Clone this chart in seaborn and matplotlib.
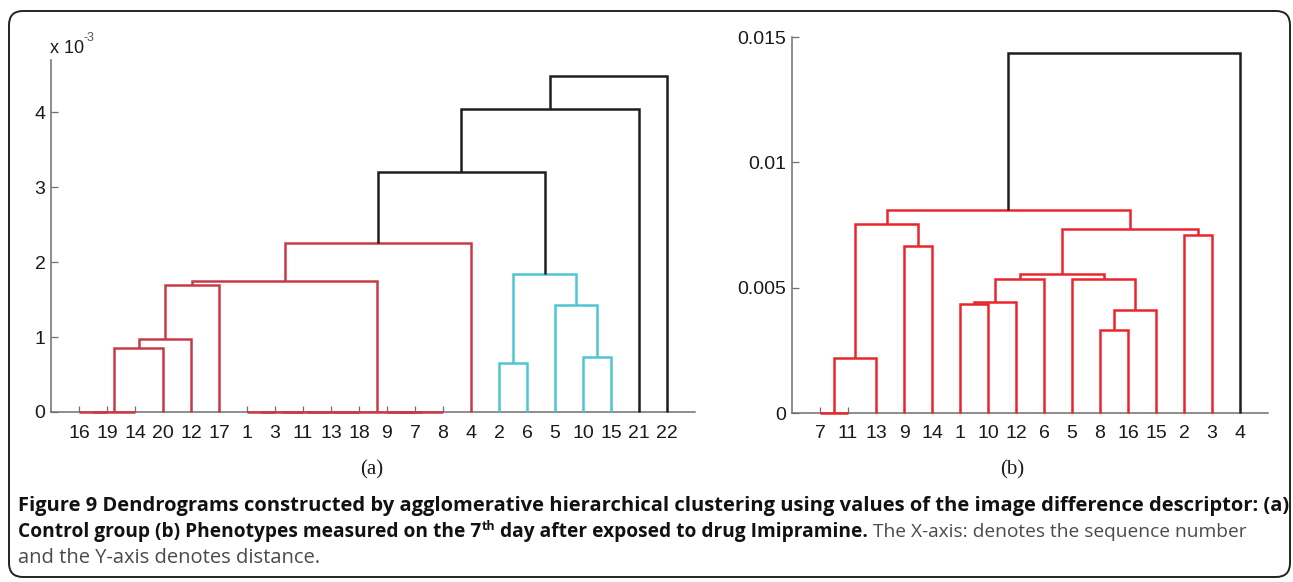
import numpy as np
import pandas as pd
import matplotlib
matplotlib.use("Agg")
import matplotlib.pyplot as plt
import matplotlib.transforms as mtransforms
from matplotlib.patches import FancyBboxPatch
import seaborn as sns

# ---------------- data ----------------
# Panel (a): leaf order along x, merges (child1, child2, height x1e-3, colour group)
a_leaves = [16, 19, 14, 20, 12, 17, 1, 3, 11, 13, 18, 9, 7, 8, 4, 2, 6, 5, 10, 15, 21, 22]
a_child1 = [16, 'k0', 'k1', 'k2', 'k3', 1, 'k5', 'k6', 'k7', 9, 'k9', 'k8', 'k4', 'k12',
            2, 10, 5, 'k14', 'k13', 'k18', 'k19']
a_child2 = [19, 14, 20, 12, 17, 3, 11, 13, 18, 7, 8, 'k10', 'k11', 4,
            6, 15, 'k15', 'k16', 'k17', 21, 22]
a_height = [0, 0, 0.85, 0.97, 1.70, 0, 0, 0, 0, 0, 0, 0, 1.75, 2.25,
            0.66, 0.73, 1.43, 1.84, 3.20, 4.04, 4.48]
a_group = ['r'] * 14 + ['c'] * 4 + ['k'] * 3

# Panel (b)
b_leaves = [7, 11, 13, 9, 14, 1, 10, 12, 6, 5, 8, 16, 15, 2, 3, 4]
b_child1 = [7, 'k0', 9, 'k1', 1, 'k4', 'k5', 8, 'k7', 5, 'k6', 2, 'k10', 'k3', 'k13']
b_child2 = [11, 13, 14, 'k2', 10, 12, 6, 16, 15, 'k8', 'k9', 3, 'k11', 'k12', 4]
b_height = [0, 0.00218, 0.00668, 0.00752, 0.00434, 0.00444, 0.00536, 0.00332,
            0.00411, 0.00533, 0.00553, 0.00710, 0.00735, 0.00809, 0.01435]
b_group = ['r'] * 14 + ['k']

a_yticks = [0, 1, 2, 3, 4]
b_yticks = [0, 0.005, 0.01, 0.015]
b_yticklabels = ['0', '0.005', '0.01', '0.015']

caption_bold1 = ("Figure 9 Dendrograms constructed by agglomerative hierarchical clustering "
                 "using values of the image difference descriptor: (a)")
caption_bold2a = "Control group (b) Phenotypes measured on the 7"
caption_sup = "th"
caption_bold2b = " day after exposed to drug Imipramine."
caption_reg2 = " The X-axis: denotes the sequence number"
caption_reg3 = "and the Y-axis denotes distance."


def link_segments(leaves, c1, c2, heights, groups):
    pos = {leaf: i + 1 for i, leaf in enumerate(leaves)}
    hgt = {leaf: 0.0 for leaf in leaves}
    rows = []
    for k, (a, b, h, g) in enumerate(zip(c1, c2, heights, groups)):
        xa, ya = pos[a], hgt[a]
        xb, yb = pos[b], hgt[b]
        rows += [(xa, ya, k, g), (xa, h, k, g), (xb, h, k, g), (xb, yb, k, g)]
        pos[f'k{k}'] = (xa + xb) / 2.0
        hgt[f'k{k}'] = h
    return pd.DataFrame(rows, columns=['x', 'y', 'link', 'group'])


sns.set_style("white")
plt.rcParams['font.family'] = ['Liberation Sans', 'DejaVu Sans']

W, H = 1293, 582
fig = plt.figure(figsize=(W / 100, H / 100), dpi=100)

axA = fig.add_axes([51 / W, (H - 412) / H, 644 / W, 352 / H])
axB = fig.add_axes([792 / W, (H - 413) / H, 476 / W, 376 / H])

dfA = link_segments(a_leaves, a_child1, a_child2, a_height, a_group)
dfB = link_segments(b_leaves, b_child1, b_child2, b_height, b_group)

colA = {'r': '#c83a46', 'c': '#4ec6d2', 'k': '#1e1e1e'}
colB = {'r': '#e8262c', 'k': '#1e1e1e'}

for ax, df, cols in [(axA, dfA, colA), (axB, dfB, colB)]:
    for g, c in cols.items():
        sub = df[df['group'] == g]
        sns.lineplot(data=sub, x='x', y='y', units='link', estimator=None, sort=False,
                     color=c, lw=1.8, ax=ax, legend=False)
    for ln in ax.lines:
        ln.set_zorder(3)
        ln.set_clip_on(False)
        ln.set_solid_joinstyle('miter')
        ln.set_solid_capstyle('butt')
    ax.set_xlabel('')
    ax.set_ylabel('')
    for s in ['top', 'right']:
        ax.spines[s].set_visible(False)
    for s in ['left', 'bottom']:
        ax.spines[s].set_visible(True)
        ax.spines[s].set_color('#6f6f6f')
        ax.spines[s].set_linewidth(1.1)
        ax.spines[s].set_zorder(1)
    ax.tick_params(axis='y', direction='in', length=5, width=0.9, color='#6f6f6f',
                   labelsize=14, labelcolor='#1a1a1a', pad=4, left=True)
    ax.tick_params(axis='x', direction='in', length=4, width=0.9, color='#6f6f6f',
                   labelsize=14, labelcolor='#1a1a1a', pad=9, bottom=True)
    ax.set_facecolor('none')

axA.set_xlim(0, len(a_leaves) + 1)
axA.set_ylim(0, 4.70)
axA.set_xticks(range(1, len(a_leaves) + 1))
axA.set_xticklabels([str(v) for v in a_leaves])
axA.set_yticks(a_yticks)
axA.set_yticklabels([str(v) for v in a_yticks])

axB.set_xlim(0, len(b_leaves) + 1)
axB.set_ylim(0, 0.015)
axB.set_xticks(range(1, len(b_leaves) + 1))
axB.set_xticklabels([str(v) for v in b_leaves])
axB.set_yticks(b_yticks)
axB.set_yticklabels(b_yticklabels)

# exponent label
fig.text(50 / W, 1 - 53 / H, 'x 10', fontsize=13, color='#1a1a1a', va='baseline', ha='left')
fig.text(84 / W, 1 - 41 / H, '-3', fontsize=9, color='#555555', va='baseline', ha='left')

# panel labels
fig.text(372 / W, 1 - 470 / H, '(a)', fontsize=15, family='Liberation Serif',
         ha='center', va='center', color='#1a1a1a')
fig.text(1012 / W, 1 - 470 / H, '(b)', fontsize=15, family='Liberation Serif',
         ha='center', va='center', color='#1a1a1a')

# caption
renderer = fig.canvas.get_renderer()
x0 = 18
t1 = fig.text(x0 / W, 1 - 511 / H, caption_bold1, family='Open Sans', weight='bold',
              fontsize=12, color='#111111', va='baseline', ha='left')
w1 = t1.get_window_extent(renderer).width
fs = 12 * (1283 - x0) / w1
t1.set_fontsize(fs)

base2 = 1 - 537 / H
base3 = 1 - 563 / H


def line2(size):
    arts = []
    x = x0
    t = fig.text(x / W, base2, caption_bold2a, family='Open Sans', weight='bold',
                 fontsize=size, color='#111111', va='baseline', ha='left')
    arts.append(t)
    x += t.get_window_extent(renderer).width
    t = fig.text(x / W, base2 + 7 / H, caption_sup, family='Open Sans', weight='bold',
                 fontsize=size * 0.65, color='#111111', va='baseline', ha='left')
    arts.append(t)
    x += t.get_window_extent(renderer).width
    t = fig.text(x / W, base2, caption_bold2b, family='Open Sans', weight='bold',
                 fontsize=size, color='#111111', va='baseline', ha='left')
    arts.append(t)
    x += t.get_window_extent(renderer).width
    t = fig.text(x / W, base2, caption_reg2, family='Open Sans', weight='normal',
                 fontsize=size, color='#4a4a4a', va='baseline', ha='left')
    arts.append(t)
    x += t.get_window_extent(renderer).width
    return arts, x


arts, xend = line2(fs)
if xend > 1250:
    for a in arts:
        a.remove()
    fs2 = fs * (1250 - x0) / (xend - x0)
    arts, xend = line2(fs2)

fig.text(x0 / W, base3, caption_reg3, family='Open Sans', weight='normal',
         fontsize=fs, color='#4a4a4a', va='baseline', ha='left')

# rounded frame
frame = FancyBboxPatch((9, 5), 1281, 566, boxstyle="round,pad=0,rounding_size=14",
                       transform=mtransforms.IdentityTransform(), fill=False,
                       ec='#222222', lw=1.4)
fig.add_artist(frame)

fig.savefig('out.png', dpi=100)
